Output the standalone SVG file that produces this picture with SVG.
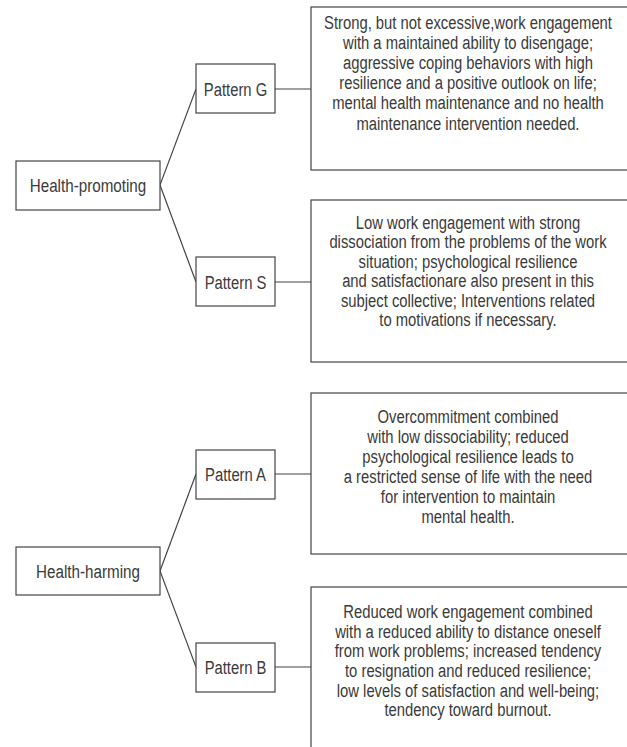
<svg xmlns="http://www.w3.org/2000/svg" width="627" height="747" viewBox="0 0 627 747">
<style>
.box{fill:#fff;stroke:#444;stroke-width:1.2}
.t{font-family:"Liberation Sans",Arial,sans-serif;font-size:19px;fill:#3a3a3a;text-anchor:middle}
.c{fill:none;stroke:#444;stroke-width:1.2}
</style>
<rect width="627" height="747" fill="#fff"/>
<g id="connectors">
<line class="c" x1="160" y1="185" x2="196" y2="89"/>
<line class="c" x1="160" y1="185" x2="196" y2="282"/>
<line class="c" x1="275" y1="89" x2="311" y2="89"/>
<line class="c" x1="275" y1="282" x2="311" y2="282"/>
<line class="c" x1="160" y1="571" x2="196" y2="474"/>
<line class="c" x1="160" y1="571" x2="196" y2="667"/>
<line class="c" x1="275" y1="474" x2="311" y2="474"/>
<line class="c" x1="275" y1="667" x2="311" y2="667"/>
</g>
<g id="health-promoting">
<rect class="box" x="16" y="161" width="144" height="49"/>
<text class="t" transform="translate(88 192) scale(0.8 1)">Health-promoting</text>
</g>
<g id="pattern-g">
<rect class="box" x="196" y="64" width="79" height="49"/>
<text class="t" transform="translate(235.5 96) scale(0.78 1)">Pattern G</text>
</g>
<g id="pattern-s">
<rect class="box" x="196" y="257" width="79" height="49"/>
<text class="t" transform="translate(235.5 289) scale(0.78 1)">Pattern S</text>
</g>
<g id="desc-g">
<rect class="box" x="311" y="7" width="340" height="163"/>
<text class="t" transform="translate(468 28.5) scale(0.78 1)">Strong, but not excessive,work engagement</text>
<text class="t" transform="translate(468 48.7) scale(0.78 1)">with a maintained ability to disengage;</text>
<text class="t" transform="translate(468 68.9) scale(0.78 1)">aggressive coping behaviors with high</text>
<text class="t" transform="translate(468 89.1) scale(0.78 1)">resilience and a positive outlook on life;</text>
<text class="t" transform="translate(468 109.3) scale(0.78 1)">mental health maintenance and no health</text>
<text class="t" transform="translate(468 129.5) scale(0.78 1)">maintenance intervention needed.</text>
</g>
<g id="desc-s">
<rect class="box" x="311" y="200" width="340" height="162"/>
<text class="t" transform="translate(468 228.5) scale(0.78 1)">Low work engagement with strong</text>
<text class="t" transform="translate(468 248) scale(0.78 1)">dissociation from the problems of the work</text>
<text class="t" transform="translate(468 267.5) scale(0.78 1)">situation; psychological resilience</text>
<text class="t" transform="translate(468 287) scale(0.78 1)">and satisfactionare also present in this</text>
<text class="t" transform="translate(468 306.5) scale(0.78 1)">subject collective; Interventions related</text>
<text class="t" transform="translate(468 326) scale(0.78 1)">to motivations if necessary.</text>
</g>
<g id="health-harming">
<rect class="box" x="16" y="547" width="144" height="48"/>
<text class="t" transform="translate(88 578) scale(0.8 1)">Health-harming</text>
</g>
<g id="pattern-a">
<rect class="box" x="196" y="450" width="79" height="49"/>
<text class="t" transform="translate(235.5 481) scale(0.78 1)">Pattern A</text>
</g>
<g id="pattern-b">
<rect class="box" x="196" y="643" width="79" height="49"/>
<text class="t" transform="translate(235.5 674) scale(0.78 1)">Pattern B</text>
</g>
<g id="desc-a">
<rect class="box" x="311" y="393" width="340" height="161"/>
<text class="t" transform="translate(468 422.5) scale(0.78 1)">Overcommitment combined</text>
<text class="t" transform="translate(468 442.5) scale(0.78 1)">with low dissociability; reduced</text>
<text class="t" transform="translate(468 462.5) scale(0.78 1)">psychological resilience leads to</text>
<text class="t" transform="translate(468 482.5) scale(0.78 1)">a restricted sense of life with the need</text>
<text class="t" transform="translate(468 502.5) scale(0.78 1)">for intervention to maintain</text>
<text class="t" transform="translate(468 522.5) scale(0.78 1)">mental health.</text>
</g>
<g id="desc-b">
<rect class="box" x="311" y="587" width="340" height="180"/>
<text class="t" transform="translate(468 617.5) scale(0.78 1)">Reduced work engagement combined</text>
<text class="t" transform="translate(468 637.5) scale(0.78 1)">with a reduced ability to distance oneself</text>
<text class="t" transform="translate(468 657) scale(0.78 1)">from work problems; increased tendency</text>
<text class="t" transform="translate(468 676.5) scale(0.78 1)">to resignation and reduced resilience;</text>
<text class="t" transform="translate(468 696.5) scale(0.78 1)">low levels of satisfaction and well-being;</text>
<text class="t" transform="translate(468 716) scale(0.78 1)">tendency toward burnout.</text>
</g>
</svg>
